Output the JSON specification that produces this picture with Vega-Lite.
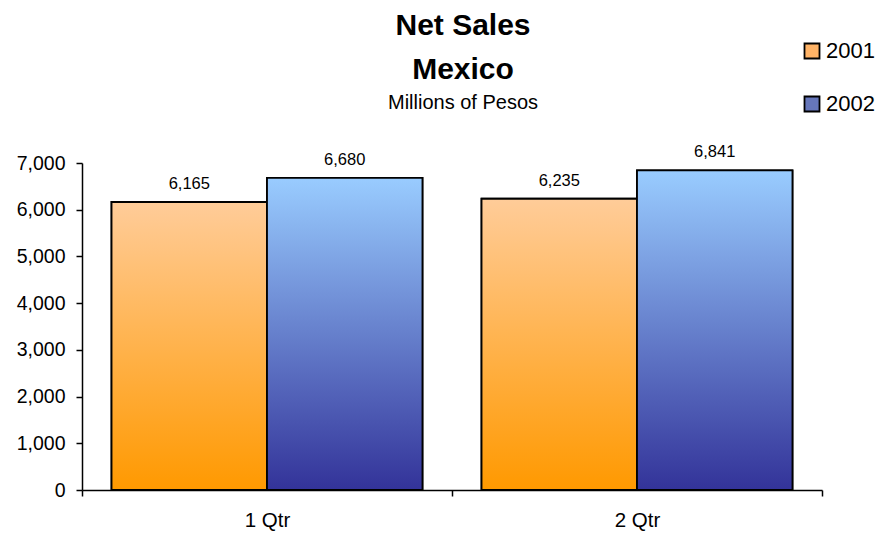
{
  "$schema": "https://vega.github.io/schema/vega-lite/v6.json",
  "width": 740,
  "height": 327,
  "autosize": {"type": "none"},
  "padding": {"left": 82, "top": 163, "right": 62, "bottom": 43},
  "background": "white",
  "config": {
    "view": {"stroke": null},
    "font": "Liberation Sans",
    "axis": {
      "labelColor": "black",
      "domainColor": "black",
      "tickColor": "black",
      "domainWidth": 1.5,
      "tickWidth": 1.5,
      "tickSize": 6,
      "grid": false,
      "title": null
    },
    "axisX": {"labelFontSize": 20.5, "labelPadding": 14, "labelAngle": 0},
    "axisY": {"labelFontSize": 19.5, "labelPadding": 11},
    "title": {
      "fontSize": 30,
      "fontWeight": "bold",
      "color": "black",
      "subtitleFontSize": 20,
      "subtitleColor": "black"
    },
    "legend": {"labelFontSize": 22, "labelColor": "black"}
  },
  "title": {
    "text": ["Net Sales", "Mexico"],
    "subtitle": "Millions of Pesos",
    "anchor": "middle",
    "lineHeight": 44,
    "subtitlePadding": 8,
    "offset": -73,
    "dx": 11
  },
  "data": {
    "values": [
      {"quarter": "1 Qtr", "year": "2001", "sales": 6165},
      {"quarter": "1 Qtr", "year": "2002", "sales": 6680},
      {"quarter": "2 Qtr", "year": "2001", "sales": 6235},
      {"quarter": "2 Qtr", "year": "2002", "sales": 6841}
    ]
  },
  "encoding": {
    "x": {
      "field": "quarter",
      "type": "nominal",
      "scale": {"paddingInner": 0, "paddingOuter": 0},
      "axis": {"tickBand": "extent"}
    },
    "xOffset": {
      "field": "year",
      "type": "nominal",
      "scale": {"paddingInner": 0, "paddingOuter": 0.19}
    },
    "y": {
      "field": "sales",
      "type": "quantitative",
      "scale": {"domain": [0, 7000]},
      "axis": {"tickCount": 7, "format": ",.0f", "formatType": "number"}
    }
  },
  "layer": [
    {
      "mark": {"type": "bar", "stroke": "black", "strokeWidth": 1.8},
      "encoding": {
        "fill": {
          "field": "year",
          "type": "nominal",
          "scale": {"range": ["#FFB366", "#6677BB"]},
          "legend": {
            "title": null,
            "orient": "none",
            "legendX": 719,
            "legendY": -123,
            "padding": 0,
            "symbolType": "square",
            "symbolSize": 225,
            "symbolStrokeColor": "black",
            "symbolStrokeWidth": 1.8,
            "symbolOpacity": 1,
            "labelOffset": 3,
            "rowPadding": 29
          }
        }
      }
    },
    {
      "mark": {"type": "bar", "stroke": "black", "strokeWidth": 1.8},
      "encoding": {
        "fill": {
          "condition": {
            "test": "datum.year === '2001'",
            "value": {"gradient": "linear", "x1": 0, "y1": 0, "x2": 0, "y2": 1,
              "stops": [{"offset": 0, "color": "#FFCC99"}, {"offset": 1, "color": "#FF9900"}]}
          },
          "value": {"gradient": "linear", "x1": 0, "y1": 0, "x2": 0, "y2": 1,
            "stops": [{"offset": 0, "color": "#99CCFF"}, {"offset": 1, "color": "#333399"}]}
        }
      }
    },
    {
      "mark": {"type": "text", "baseline": "alphabetic", "dy": -13, "fontSize": 16.5, "color": "black"},
      "encoding": {
        "text": {"field": "sales", "type": "quantitative", "format": ","}
      }
    }
  ]
}
